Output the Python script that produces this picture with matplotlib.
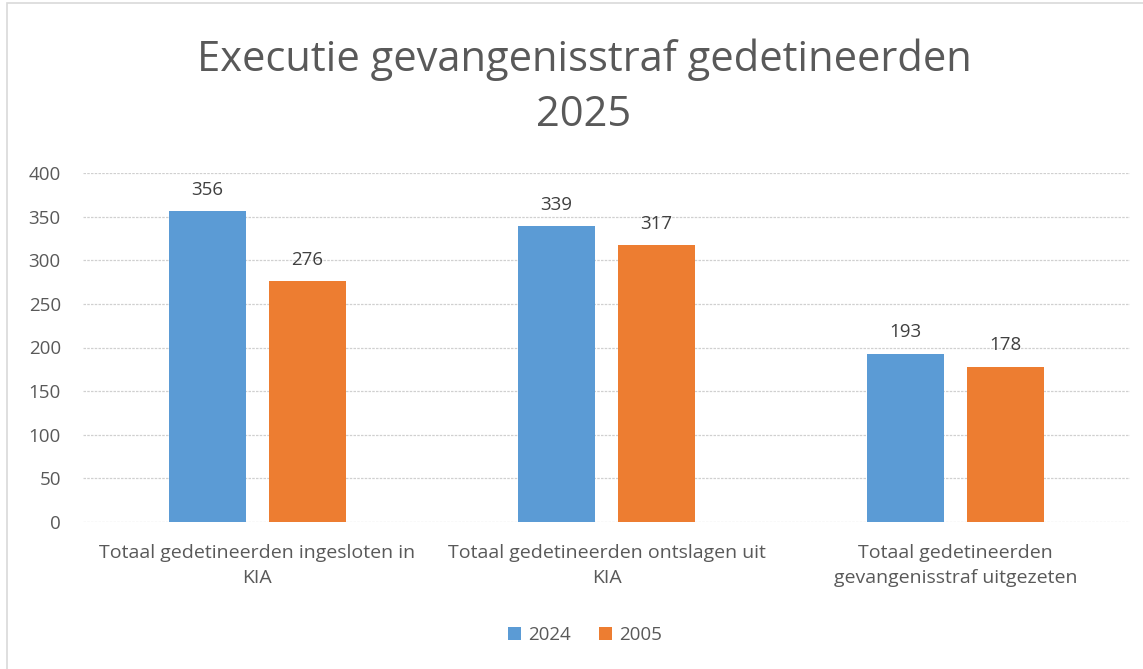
import matplotlib.pyplot as plt
import numpy as np
from matplotlib.patches import Rectangle

categories = [
    "Totaal gedetineerden ingesloten in\nKIA",
    "Totaal gedetineerden ontslagen uit\nKIA",
    "Totaal gedetineerden\ngevangenisstraf uitgezeten",
]
series_names = ["2024", "2005"]
values_2024 = [356, 339, 193]
values_2005 = [276, 317, 178]
y_ticks = [0, 50, 100, 150, 200, 250, 300, 350, 400]

plt.rcParams["font.family"] = ["Open Sans", "DejaVu Sans"]
text_color = "#595959"

fig = plt.figure(figsize=(11.43, 6.69), dpi=100)
ax = fig.add_axes([83 / 1143, 1 - 522 / 669, (1130 - 83) / 1143, (522 - 173) / 669])

x = np.arange(len(categories))
width = 0.22
offset = 0.143
bars1 = ax.bar(x - offset, values_2024, width, color="#5b9bd5", label=series_names[0], zorder=3)
bars2 = ax.bar(x + offset, values_2005, width, color="#ed7d31", label=series_names[1], zorder=3)

for bars, vals in ((bars1, values_2024), (bars2, values_2005)):
    for bar, v in zip(bars, vals):
        ax.annotate(str(v), (bar.get_x() + bar.get_width() / 2, v),
                    xytext=(0, 9), textcoords="offset points",
                    ha="center", va="bottom", fontsize=13.5, color="#404040")

ax.set_xlim(-0.5, 2.5)
ax.set_ylim(0, 400)
ax.set_yticks(y_ticks)
ax.set_xticks(x)
ax.set_xticklabels(categories, fontsize=14, color=text_color, linespacing=1.45)
ax.tick_params(axis="y", labelsize=13.5, labelcolor=text_color, length=0, pad=16)
ax.tick_params(axis="x", length=0, pad=16)
ax.grid(axis="y", color="#d0d0d0", linestyle=(0, (2, 1)), linewidth=0.9, zorder=0)
for s in ax.spines.values():
    s.set_visible(False)

fig.text(584 / 1143, 1 - 87 / 669, "Executie gevangenisstraf gedetineerden\n2025",
         ha="center", va="center", fontsize=30, color=text_color, linespacing=1.42)

fig.legend(handles=[bars1, bars2], labels=series_names, loc="center",
           bbox_to_anchor=(585 / 1143, 1 - 635 / 669), ncol=2, frameon=False,
           fontsize=13.5, labelcolor=text_color, handlelength=0.7, handleheight=0.7,
           handletextpad=0.4, columnspacing=1.5)

fig.patches.append(Rectangle((7 / 1143, -0.1), 1.2, 1 - 3 / 669 + 0.1,
                             transform=fig.transFigure, fill=False,
                             edgecolor="#d9d9d9", linewidth=1.2))

fig.savefig("out.png", dpi=100)
